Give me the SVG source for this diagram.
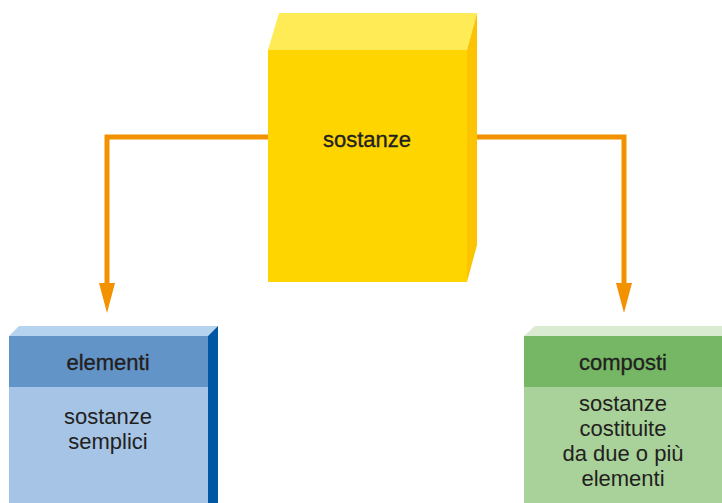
<svg xmlns="http://www.w3.org/2000/svg" width="722" height="503" viewBox="0 0 722 503">
<style>
.t{font-family:"Liberation Sans",Arial,sans-serif;font-size:22px;fill:#231f20;text-anchor:middle}
.h{stroke:#231f20;stroke-width:0.35}
.c{fill:none;stroke:#f39200;stroke-width:5}
.ah{fill:#f39200}
</style>
<rect width="722" height="503" fill="#ffffff"/>
<g id="connectors">
<path class="c" d="M268,137 H107 V283"/>
<path class="ah" d="M99,283 H115 L107,313 Z"/>
<path class="c" d="M477,137 H624 V283"/>
<path class="ah" d="M616,283 H632 L624,313 Z"/>
</g>
<g id="sostanze">
<polygon points="268,50 279,13 477,13 467,50" fill="#ffeb55"/>
<polygon points="467,50 477,13 477,245 467,282" fill="#fcc400"/>
<rect x="268" y="50" width="199" height="232" fill="#ffd500"/>
<text class="t h" x="367" y="147">sostanze</text>
</g>
<g id="elementi">
<polygon points="9,336 19,326 218,326 208,336" fill="#b5d3ee"/>
<polygon points="208,336 218,326 218,503 208,503" fill="#0058a5"/>
<rect x="9" y="336" width="199" height="51" fill="#6394c8"/>
<rect x="9" y="387" width="199" height="116" fill="#a5c4e6"/>
<text class="t h" x="108" y="370">elementi</text>
<text class="t" x="108" y="424">sostanze</text>
<text class="t" x="108" y="449">semplici</text>
</g>
<g id="composti">
<polygon points="524,336 535,326 722,326 722,336" fill="#d9ebd1"/>
<rect x="524" y="336" width="198" height="51" fill="#75b765"/>
<rect x="524" y="387" width="198" height="116" fill="#a9d19a"/>
<text class="t h" x="623" y="370">composti</text>
<text class="t" x="623" y="411">sostanze</text>
<text class="t" x="623" y="436">costituite</text>
<text class="t" x="623" y="461">da due o più</text>
<text class="t" x="623" y="486">elementi</text>
</g>
</svg>
